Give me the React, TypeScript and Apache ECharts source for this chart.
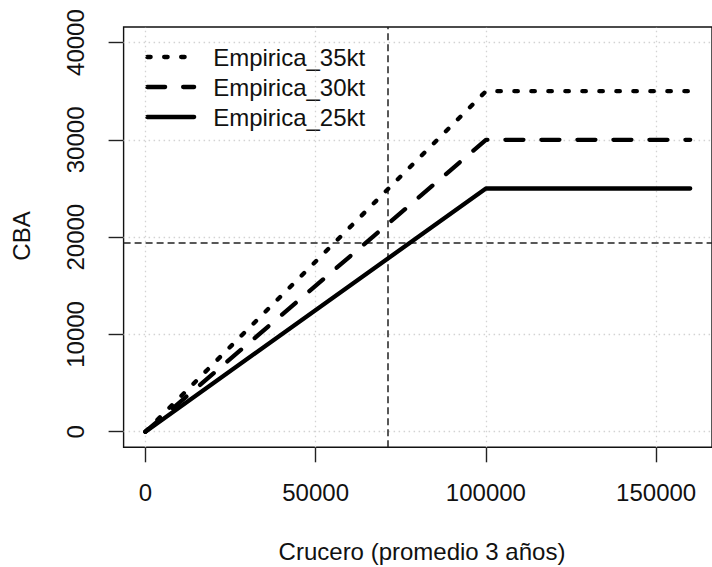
import React, { useEffect, useRef } from "react";
import * as echarts from "echarts";

// ---- data ----
const crucero = [0, 100000, 160000];
const empirica35 = [0, 35000, 35000];
const empirica30 = [0, 30000, 30000];
const empirica25 = [0, 25000, 25000];
const seriesNames = ["Empirica_35kt", "Empirica_30kt", "Empirica_25kt"];
const xTicks = [0, 50000, 100000, 150000];
const yTicks = [0, 10000, 20000, 30000, 40000];
const refX = 71300;
const refY = 19450;
const xTitle = "Crucero (promedio 3 años)";
const yTitle = "CBA";

const FONT = "'Liberation Sans', Arial, sans-serif";

export default function App() {
  const ref = useRef<HTMLDivElement>(null);
  useEffect(() => {
    if (!ref.current) return;
    const chart = echarts.init(ref.current, null, { renderer: "svg" });
    const pairs = (ys: number[]) => crucero.map((x, i) => [x, ys[i]]);
    const mainLine = (name: string, ys: number[], dash: number[] | "solid") => ({
      name,
      type: "line",
      data: pairs(ys),
      showSymbol: false,
      symbol: "none",
      z: 5,
      lineStyle: { color: "#000", width: 4.3, type: dash, cap: "round", join: "round" },
      itemStyle: { color: "#000" },
    });
    chart.setOption({
      animation: false,
      textStyle: { fontFamily: FONT },
      grid: {
        left: 123.6,
        top: 27,
        width: 597.4,
        height: 420.3,
        show: true,
        borderColor: "#111",
        borderWidth: 1.4,
        backgroundColor: "transparent",
      },
      xAxis: {
        type: "value",
        min: -6400,
        max: 166400,
        axisLine: { show: false, onZero: false },
        splitLine: { show: false },
        axisTick: {
          show: true,
          inside: false,
          customValues: xTicks,
          length: 15,
          lineStyle: { color: "#222", width: 1.4 },
        },
        axisLabel: {
          customValues: xTicks,
          formatter: (v: number) => String(v),
          margin: 33,
          fontSize: 24,
          color: "#111",
          fontFamily: FONT,
        },
      },
      yAxis: {
        type: "value",
        min: -1600,
        max: 41600,
        axisLine: { show: false, onZero: false },
        splitLine: { show: false },
        axisTick: {
          show: true,
          inside: false,
          customValues: yTicks,
          length: 15,
          lineStyle: { color: "#222", width: 1.4 },
        },
        axisLabel: {
          customValues: yTicks,
          formatter: (v: number) => String(v),
          rotate: 90,
          margin: 36,
          fontSize: 24,
          color: "#111",
          fontFamily: FONT,
        },
      },
      legend: {
        data: seriesNames,
        orient: "vertical",
        left: 145,
        top: 45,
        padding: 0,
        itemWidth: 47,
        itemHeight: 14,
        itemGap: 6,
        lineStyle: { width: 4.3, cap: "round", color: "#000" },
        itemStyle: { color: "transparent", borderColor: "transparent", borderWidth: 0, opacity: 0 },
        textStyle: { fontSize: 24, color: "#111", fontFamily: FONT, padding: [0, 0, 0, 14] },
      },
      graphic: [
        {
          type: "text",
          x: 422,
          y: 551,
          style: {
            text: xTitle,
            font: `24px ${FONT}`,
            fill: "#111",
            align: "center",
            verticalAlign: "middle",
          },
        },
        {
          type: "text",
          x: 21.5,
          y: 236,
          rotation: Math.PI / 2,
          style: {
            text: yTitle,
            font: `24px ${FONT}`,
            fill: "#111",
            align: "center",
            verticalAlign: "middle",
          },
        },
      ],
      series: [
        {
          name: "grid",
          type: "line",
          data: [[0, 0]],
          showSymbol: false,
          symbol: "none",
          lineStyle: { opacity: 0 },
          z: 1,
          silent: true,
          markLine: {
            silent: true,
            symbol: ["none", "none"],
            label: { show: false },
            lineStyle: { color: "#d3d3d3", width: 1.3, type: [1.5, 3.5] },
            data: [
              ...xTicks.map((v) => ({ xAxis: v })),
              ...yTicks.map((v) => ({ yAxis: v })),
            ],
          },
        },
        mainLine(seriesNames[0], empirica35, [3.5, 13.5]),
        mainLine(seriesNames[1], empirica30, [18, 18]),
        mainLine(seriesNames[2], empirica25, "solid"),
        {
          name: "ref",
          type: "line",
          data: [[0, 0]],
          showSymbol: false,
          symbol: "none",
          lineStyle: { opacity: 0 },
          z: 6,
          silent: true,
          markLine: {
            silent: true,
            symbol: ["none", "none"],
            label: { show: false },
            lineStyle: { color: "#222", width: 1.5, type: [7, 4] },
            data: [{ xAxis: refX }, { yAxis: refY }],
          },
        },
      ],
    });
    return () => chart.dispose();
  }, []);
  return (
    <div
      ref={ref}
      style={{ position: "fixed", left: 0, top: 0, width: 712, height: 567, background: "#fff" }}
    />
  );
}
